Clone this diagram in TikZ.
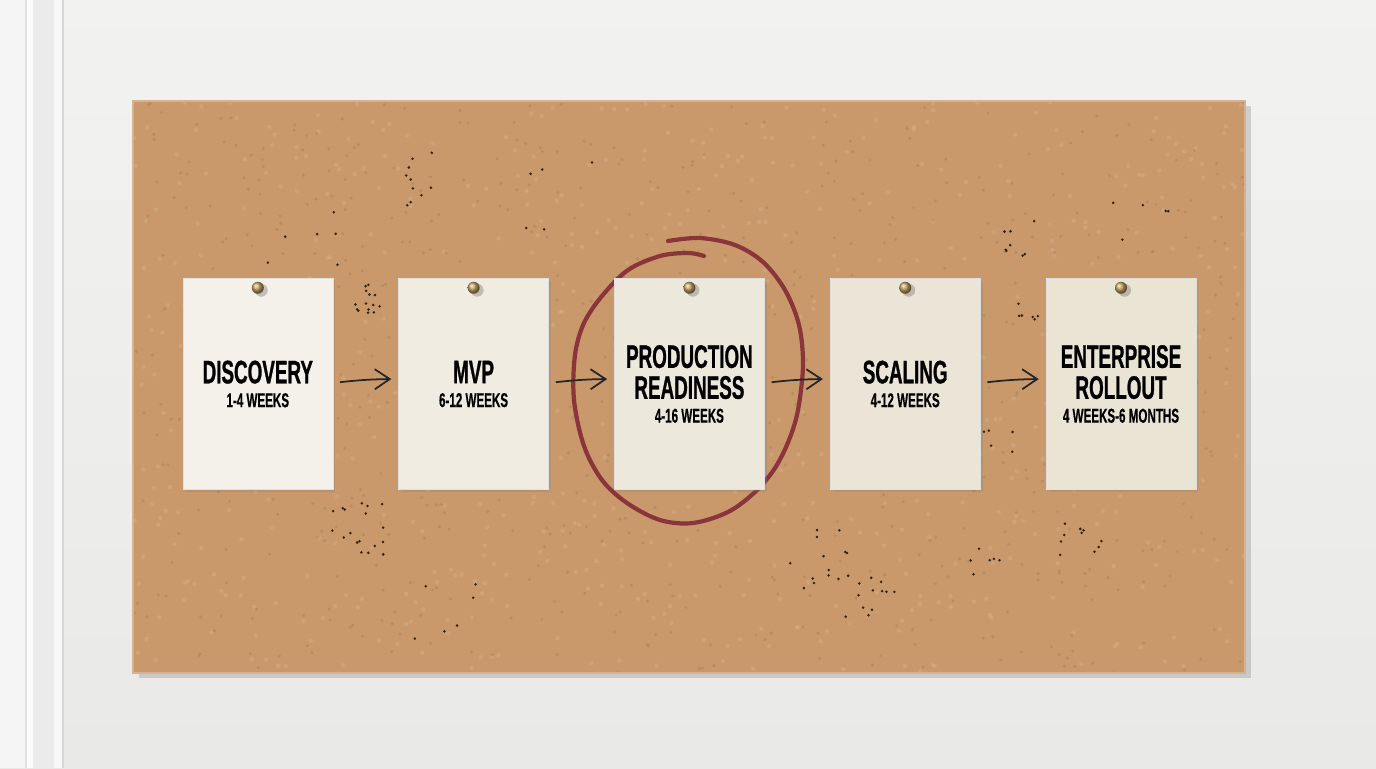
\documentclass[tikz,border=0pt]{standalone}
\usepackage{fontspec}
\newfontfamily\ttlfont[FakeStretch=0.58,FakeBold=0.8]{Liberation Sans Bold}
\newfontfamily\subfont[FakeStretch=0.58,FakeBold=0.4]{Liberation Sans Bold}
\usetikzlibrary{arrows.meta,positioning,shadows}

\definecolor{wall}{RGB}{233,233,231}
\definecolor{cork}{RGB}{201,153,107}
\definecolor{redpen}{RGB}{138,52,60}
\definecolor{pinbrass}{RGB}{190,160,95}
\definecolor{paperA}{RGB}{243,241,234}
\definecolor{paperB}{RGB}{240,236,226}
\definecolor{paperC}{RGB}{237,232,220}
\definecolor{paperD}{RGB}{235,229,215}
\definecolor{paperE}{RGB}{234,228,212}

\tikzset{
  card/.style={fill=#1,draw=black!12,line width=0.3pt,minimum width=3cm,minimum height=4.22cm,
    align=center,inner sep=0pt,drop shadow={shadow xshift=0.05cm,shadow yshift=-0.05cm,opacity=0.25}},
  ttl/.style={font=\ttlfont\fontsize{18.5}{17.6}\selectfont},
  handarrow/.style={-{Straight Barb[length=0.3cm,width=0.4cm,line width=1pt]},line width=1pt,
    black!85,shorten <=0.14cm,shorten >=0.14cm},
  redloop/.style={draw=redpen,line width=2.4pt,line cap=round},
  speck/.style={fill=black!75!brown}
}
\newcommand{\subtxt}{\subfont\fontsize{11.4}{12}\selectfont}

\begin{document}
\begin{tikzpicture}[x=0.02cm,y=-0.02cm]
\useasboundingbox (0,0) rectangle (1376,768);

% wall and door frame
\shade[top color=wall!60!white,bottom color=wall] (0,0) rectangle (1376,768);
\fill[white!96!black] (0,0) rectangle (25,768);
\fill[black!12] (25,0) rectangle (27,768);
\fill[white!97!gray] (27,0) rectangle (33,768);
\fill[black!8] (33,0) rectangle (54,768);
\fill[white!94!gray] (54,0) rectangle (62,768);
\fill[black!16] (62,0) rectangle (64,768);

% cork board
\fill[cork,drop shadow={shadow xshift=0.12cm,shadow yshift=-0.1cm,opacity=0.3}] (133,101) rectangle (1245,673);
\begin{scope}
  \clip (133,101) rectangle (1245,673);
  \pgfmathsetseed{5}
  \foreach \i in {1,...,700}
    \fill[cork!70!white,opacity=0.35] (689+556*rand,387+286*rand) circle (2.2);
  \foreach \i in {1,...,700}
    \fill[cork!70!black,opacity=0.25] (689+556*rand,387+286*rand) circle (1.8);
\end{scope}
\draw[cork!75!white,line width=0.6pt] (133,101) rectangle (1245,673);

% specks in the cork
\pgfmathsetseed{11}
\foreach \cx/\cy/\r/\k in {362/300/18/14, 405/180/30/10, 360/530/28/18, 820/560/30/14,
  870/600/25/12, 1015/240/20/8, 1030/310/12/6, 1080/540/22/10, 985/560/15/6,
  300/250/40/6, 560/200/40/5, 1150/200/40/5, 450/620/40/6, 1000/450/20/5}
  \foreach \i in {1,...,\k}
    \fill[speck] (\cx+\r*rand,\cy+\r*rand) circle (1.4);

% red pen loop
\draw[redloop] plot[smooth,tension=0.55] coordinates {(668,241) (700,238) (735,245) (763,262)
  (785,290) (799,325) (803,365) (798,410) (789,440) (775,468) (755,492) (728,512) (693,523)
  (660,520) (627,503) (602,480) (584,446) (574,400) (575,355) (584,323) (602,296) (628,270)
  (660,256) (688,253) (704,256)};

% cards
\foreach \t/\s/\c [count=\n] in {DISCOVERY/1-4 WEEKS/paperA, MVP/6-12 WEEKS/paperB,
  PRODUCTION\\READINESS/4-16 WEEKS/paperC, SCALING/4-12 WEEKS/paperD,
  ENTERPRISE\\ROLLOUT/4 WEEKS-6 MONTHS/paperE}
  \node[card=\c,ttl](N\n) at (42+215.8*\n,384) {\t\\[-4pt]\subtxt \s};

% pins
\foreach \n in {1,...,5}{
  \fill[black,opacity=0.2] ([xshift=0.07cm,yshift=-0.24cm]N\n.north) circle (6.5);
  \shade[ball color=pinbrass] ([yshift=-0.19cm]N\n.north) circle (6);
}

% arrows
\foreach \a [count=\b from 2] in {1,...,4}
  \draw[handarrow] ([yshift=0.02cm]N\a.east) to[bend left=3] ([yshift=0.1cm]N\b.west);
\end{tikzpicture}
\end{document}
